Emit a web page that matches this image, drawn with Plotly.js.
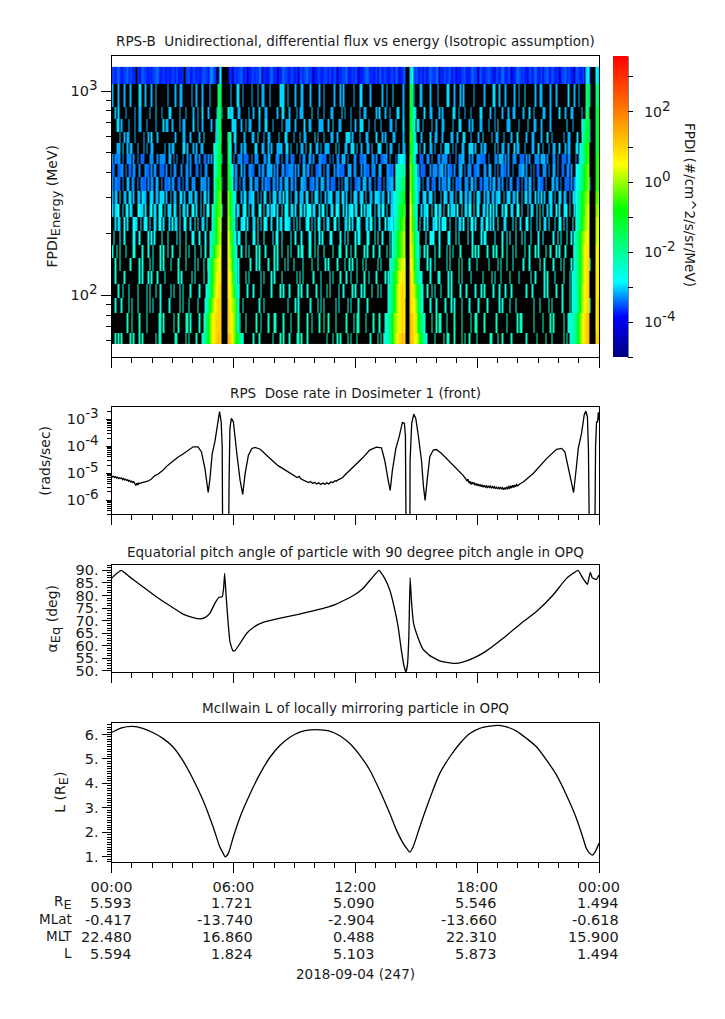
<!DOCTYPE html>
<html><head><meta charset="utf-8">
<script src="https://cdn.plot.ly/plotly-3.0.1.min.js"></script>
<style>html,body{margin:0;padding:0;background:#fff}#g{width:725px;height:1019px}</style>
</head><body><div id="g"></div>
<script>
// ---------- Spectrogram values ----------
var energyEdgesMeV = [1315,1090,840,732,634,560,494,442,381,325,281,242,207,177,152,132,114,97.3,81.9,65.6,57.9];
// one char per time bin: '.' = no counts (black); others index fluxLevels (log10 flux)
var fluxLevels = {Z:-4.4,A:-3.75,B:-3.6,C:-3.45,D:-3.3,a:-3.65,b:-3.45,c:-3.3,d:-3.15,e:-3.0,f:-2.85,g:-2.6,h:-2.35,i:-2.1,j:-1.7,k:-1.3,l:-0.9,m:-0.5,n:-0.2,o:0.1,p:0.4,q:0.7,r:1.0,s:1.3,t:1.7};
var noiseBins = 325;
var noiseRows = [
"BBABCBAABBCABBAB.BAACBBAABABBCCBAABAABAABBACAAAB.BBCAABBABAABCBBA"+"CDCBA.AA.ABBAABZABABBCAABZAABBABACCZBAAABCBABZAABCBBAABBAABZBBABC"+"CABAZAABBAABBBACAABBZBABBBCAAABABBZAAABCCBABAABZBCABBAAABBACBZAAB"+"CBBAZABBCAABZBAABCBBACCZBABBABCAABZAAABBCAAABCBBAZCBAABBCBAAZBBAB"+"CCAABBZAABCCBABAAZBBABCBAABZBBCAACBAABZABBCABBAAZCBBAAB.BBACBBAAB",
"d...d...d...d.....ee..d...d..d.......d....d..dd......d..d...d....d"+"......d...d..d...ee..d.....d...d..dd...d......eee..d....d...dd...."+"d.....d..d......d...d.d......d...ee.....d.......d..d...e......d..d"+"...d...dd.....d....d.....ee...d...d.d......d......d.....ee..d...d."+"....d..d...e......d..dd.....d...d.......e...d..d......d...d.......",
"..d.e....d.....d..dd.....d...e...d....ee.....d...d....d..d..e...d.."+"...d..d....dee...dd.....d..d...e...dd......d..ee...d....d.ddd....."+"e...d...d....dd.....e.d...d.....d..dd......d.e...d..d....ee..d...."+"d..d.....e...dd....d.d......ee..d...d...d.....ee.....d..d....d...d"+"..dd.....d...e..d.....dd...d.....e...d...dd.....d...d....d...e....",
"...ee.d....d...d..dd...d.....d....e.dd..d....d.dd.....e..d..d....."+"d...dd...d....eee...d..d.dd.....d...ee...d.....d..ddd...d.....e..d"+"d.....ddd...d..e...dd......d..d..eee...d...d...d.....dd..d....e..."+".d...ee..d.....d..d...dd.....d...ee.....d.d....dd....d...d.e.....d"+"dd.....d.....e...dd...d.....d..........e...d.....dd...d....e...d..",
".....d..d.dd...d.....d..d.e...d...........d....dd...d.....d..e...."+"...dd.e..d.....ee.....d....dd..e...d..dd.....d...ee....d...d..dd..."+"..e.d...d....dd..d.....eee.d....d...dd.....e...d.d....dd.....d...ee"+"..d...d.....e..dd...d.....dd..d...ee...d....d..e.....d..dd...d....d"+"...e.....d...dd....d...e..d.......d..dd....e....d..d...dd...e.....",
"...ddd.e..d.dd...d...d.d..dd.......d..d.dd.....ee.d...d.d..dd....."+"..d..d...eee.d..d...d.dd.....ee...dd..d.d...dddd..ee.d...d..dd.d.."+"e...dd.d..ddd....e.d...dd..eee.d..d...dd.d...eee...d.dd....d..dd.e"+"...ddd.d..e...dd.d...d..eee..d.d...dd...eee.d...d.dd.....e.d..dd.."+"d...e.dd...d....dd..e..d...d..dd..e...d.dd...ee.d...dd..d...e.d...",
"c.cbcc.c..ccc.c..c.bbb...ccc..c.cccc..dd.c.c...c..c.c..cc.c..bb.c.c"+"...c.cc.d..cc.c..ccc.bbb..c.ccc...cc.dd...ccc.c..cc.cbb...c.cc..dc."+"c...ccbbb..c.c..cc.ddd.c...cc..bbbcc...cc.c..bbccc.c...c.cc.dd..ccc"+".c..bbb..cc.c...cc.cccc.b...c.ccdd...c.c..cccbbb..c...cc.ddd.c.c..c"+"cc..bbb.c.c...ccc.ddd.c...cc.c..bbb.cc...c.ccc..dd.c...c.cc..bb.c.",
"bc..bbcc.c.bb.cc..c...cbb.c.cc..bbb.c..c.cc...c..cc.c...bb.c..cc.."+"........c..c..c.cc..d.c..ccbb...c.cc.cddd.c.c..cc.bbccc.c.c..dd.cc."+"c..bbcc.c.cc...c.ccbbb..cdd.cc...c.cbbb.ccc..dd...ccbbc.cc...ccdd.c"+".c..c.bbb...c.ccc.cdd.c.cbb.c..cdd.c.ccc.bbcc...cc.dd..c.c.ccbb.c.."+"c...ccdd.c..c.c.bb..ccc.c..dd.c..bb.cc.c...ccc.dd.c..bb..c.cc..c..",
"c.cbbb.c..dd.cc..c.cbbb.c.cc.dd..c.cbbc.cc..bb.c.cc..ccc...dccc.c."+".......cc.......cc.c.cc...dd.ccc..c.cbbb.cc.c.cc.ddd.cc.c...ddcc..b"+"bc.cc.ddc.cc.bbb..c.c.ddc.c..bbcc.ddd.cc..c.bbb.c.ccddd.c...cc.bbb."+"c.ccdd.c..cc.bbc..c.ccc.dd.c.cbbc..ccc.dd.c..bb.ccc.c.dd.cc.c..c.cc"+"...bb.c.cc.dd.c..ccbb.c...dd.cc.c..bbb.c.cc...dd.c.cc..bb.c..cc...",
"d.de.e..dd.ee.d..ed.eed..dee.dd.eee.d..d.dd..ee.d..ede.ed..d.ee.d."+"...d.ee..d.d.dd.e...d.ee.ddee..d.d.ee..d.dee.dd.e.ee.d..de.dde.ee.."+"d.eed.d..d.dee..dde.ee.d..d.eed.dee.d..dd.eeed.dd..e.dee.d.dee.dde."+"d.eed..dee.dee.d...d.eed.dde.d..ee.dd.de.d.eed..d.de.dd.dee..d.dee."+"dd.e..d.ee.dd..e.d.e.d..dee.d..ee.dd..d.eee.d..dd.e.d..ee.dd.d....",
"e.eff..e.ef.ee...ffee.e..ef.ee.fff.e.eee.fe..e.ee.e..ff.e..e.e.ff."+".e..e.ff.ee.e..f.ee..eff.e.ee...ff.e.ee.eef.e..e.ffe.ee.e..fe.e.fff"+".ee..e.ff.e..ee.ffe..e.e.eff.ee..f.e.eef..e.ee.ff.e..eee.f.e.ef.ee."+"e.ff..e.eef..e.ff.ee.e..f.eee.f..e.ee.ff.e.ef..ee.e.f.e.e...e.ff..e"+"e..ff.e...e.ee..f.e.f..e.ee..f.e..eff.e..e.ee.f..ee.e..ff.e..e....",
"..e.ee..f.e...ffe..e.eff.e..ee.ff.e...e.f.ee.e..ff..e..f.e..ee.f.."+"......e.f..ee..f.e..eff.e...ee.f.e.ffe..e...f.ee.ffee..e.f.e...eff."+"e.e.ff..e.ee...ff.e...ee.f.e..ffe...ee.ff.e..e...f.eeff.e..ffe.e..f"+"f.ee.e..f.e...eef.e.fff..e...e.ee.f..e.ff.e...ee.ff.e.e..f...ee...."+"f.e..e...ff.e...e.f..ee.f...e..ff.e.e...f.ee..e.ff..e..e.f...e....",
".f...f..f.....ff..f.....f.f.f....f...f.....f.f...f...ff...f...f..."+"........f...f...f.ff...f....ff.f...f.....f.ff..f.....f..f...f....f"+"f..f..f.f....ff.....f..f.f....f.ff....ff...f.f..f....f...f....f..."+"f..f.f.....f..fff...f.....ff...f.f.....f..f.....f.ff.....f....f..f"+".f...f...f.f...f....f..f......f..f.f...f..f....f...ff...f...f.....",
"g..g.g...g....gg....g...g..g....g.g..g..g....g...g.g...g...g..g..."+".........g......g...g..g.g....g.g...g.....g.g..g...g.g....g.gg...g"+"g..g.g...g.....g...gg...g..g..g.....g.g...g...g....g.g.g....g...g."+"...g...g..g.g....g..g....g.g.g....g.......g.g.g.....g...g.g...g..g"+"...g.g.....g..g...g.g....g..g...g.g...g.....g..g...g.g.....g...g..",
"..g..g......g.....g.g....g.g....g.g....g....g....g.....g.g...g..g."+".............g....g.......g...g.g.....g...g.g....g.g...g.....g.....g"+"...g....g.g.....g....g..g.g..g...g.g.......g.g.....g..g....g.g....g"+"...g.....g.g..g.......g.g.....g.g....g....g.......g.....g.g...g...g"+"......g...g......g..g.....g....g.g....g.g......g..g.....g.....g.....",
"..g.....g.........g.g...g.g...g....g........g.g......g.g.....g...g."+"....g............g....g.g.......g.g....g.g....g.........g.g.g......g"+"....g.....g.g....g...g..g...g....g..g....g.....g.g....g...g.g......"+"..g.g.....g....gg.....g.g....g.g.....g.......g.....g.g...g.....g..."+"..g.......g..g.....g.g....g.....g...g....g......g...g....g...g......",
"....g..g...g.....g.....g.g...g..g......g.g...g.g....g.....g....g..."+"..............g..g.....g...g....g......g.....g.g...g.....g.g...g....."+"g..g...g.g.....g..g.....g.g...g.g....g...g.g.....g.g.....g.g.g......"+"g.....g..g.g...g....g.g.....g...g.....g...g.g.....g...g...g...g......"+"...g...g.......g.g.....g...g....g.....g.....g.g....g......g....g.......",
"..g...g....g.g...g.....g.g.g....g.....g......g.g...g.....g....g...."+"..............g.g...g..........g..g...............g....g.g.......g."+"...g.g.g.......g.g.....g.g....g.....g..............g.g...g....g......"+".g.g.....g...g.....g...g.g....g....g.....g.....g.......g.g....g...g"+"...........g...g.....g.g......g....g..g.......g.g.....g...g........",
"..........h..h....h....h.......hh.h......h..h....hh.h.....h...hh.."+"..............h....h...h......h..h....h...hh....h....h....h.....h..h"+"....h..h..h....h......h....h.hh....h....h...h...h.h.......h....h...h"+"...h.......h..h.hh...h....h....h.....h..hh....h.......h......h....."+".h.hh.......h.....h....h.h......h....h...h......h.h.......h........",
"..h.h.h.....h.h...h.h........h.hh.........hh.....h.h....h....h...."+"..........h...h....h.h......h...h........h....h.h...h....hh.h...h..."+".........h...h..h.h....h.h...h........h....h.h.hh...h.......h.h....."+"h.h...h......h.....h.hh...h....h.h..h....h........hh...h..h.....h..."+"......h......h.....h...h.......h.h....h......h....h....h...h......."
];
// satellite-pass belts on a coarser grid: strings per row (top to bottom)
var beltBins = 244;
var endInA = 54, gapA = [55,57], startOutA = 58;
var endInB = 146, gapB = [147,148], startOutB = 149;
var endInC = 238, gapC = [239,241], startOutC = 242;
var inA = ["f","jk","jk","ejk","ejk","gijk","gikl","gikl","gklm","gkmn","gjlmn","gjlno","gijlno","gjlnop","gjlnopq","gjlnpqq","gijlopqr","gjlnpqrr","gjlnpqrrr","gijlnpqrsr"];
var outA = ["","","i","","jh","kf","kg","lig","lkg","nlig","nlig","oljg","pmkg","pnkig","qolig","qpmjg","qpnkig","rponkg","rqpnkg","srpnlkig"];
var inB = ["","","","","","","effe","ghhii","ghijj","ghijkl","ghjklm","gijlmn","gijlmno","gijlmno","gijlnopp","gjlmopqq","gijlnpqrq","gijlnpqrq","gijlnopqrq","ggijlnpqrsr"];
var outB = ["eg","kj","ljg","ljg","mkg","lkgf","mkg","nlig","nlig","oljg","pmig","pmkg","qnkig","qolig","qpljg","rpmjig","rqomkig","rqpnkig","srqolkig","srqpnljig"];
var inC = ["ef","jk","ik","gikl","gjkl","gijlm","ghjlm","fghjlmn","fgijlmn","gijlmno","gijlmop","gijlnop","gijlnopq","gijlnpqq","gijlnpqr","ggijlnpqr","ggijlopqr","gghjlopqr","gghijlnpqrs","ghijlnpqrs"];
var outC = ["fe","jj","kl","kl","kl","kl","lm","lm","lm","mn","no","op","op","pq","pq","qq","qq","qr","qr","rr"];

// ---------- Dosimeter 1 rate ----------
var doseHours = [
 0,.05,.1,.15,.2,.25,.3,.35,.4,.45,.5,.55,.6,.65,.7,.75,.8,.85,.9,.95,1,1.05,1.1,1.15,1.2,1.25,1.3,1.35,1.4,1.5,1.6,1.79,
 1.95,2.12,2.3,2.53,2.75,3.02,3.25,3.52,3.8,4.02,4.26,4.43,4.6,4.76,4.84,4.96,5.09,5.21,5.32,5.4,5.45,5.47,5.77,5.79,5.83,5.9,6.0,6.17,6.33,6.46,6.58,6.74,6.91,7.07,7.32,7.82,8.2,8.48,8.8,9.0,
 9.14,9.25,9.3,9.4,9.5,9.6,9.7,9.8,9.9,10,10.1,10.2,10.3,10.4,10.5,10.6,10.7,10.8,10.9,11,11.07,11.15,11.25,11.35,11.48,
 11.89,12.38,12.71,13.04,13.29,13.45,13.62,13.72,13.83,14.0,14.16,14.32,14.42,14.47,14.5,14.69,14.7,14.78,14.88,14.98,15.1,15.26,15.36,15.44,15.54,15.67,15.84,16.0,16.25,16.82,
 17.31,17.45,17.5,17.55,17.6,17.65,17.7,17.75,17.8,17.85,17.9,17.95,18,18.05,18.1,18.15,18.2,18.25,18.3,18.35,18.4,18.45,18.5,18.55,18.6,18.65,18.7,18.75,18.8,18.85,18.9,18.95,19,19.05,19.1,19.15,19.2,19.25,19.3,19.35,19.4,19.45,19.5,19.55,19.6,19.65,19.7,19.75,19.8,19.85,19.9,19.95,20,20.1,20.27,
 20.76,21.42,21.91,22.16,22.32,22.49,22.65,22.75,22.87,22.98,23.14,23.27,23.35,23.43,23.48,23.52,23.8,23.83,23.88,23.93,23.97,24];
var doseLog10 = [
 -5.11,-5.14,-5.12,-5.16,-5.13,-5.18,-5.15,-5.2,-5.17,-5.2,-5.18,-5.24,-5.2,-5.25,-5.23,-5.27,-5.25,-5.3,-5.27,-5.33,-5.3,-5.35,-5.32,-5.42,-5.46,-5.37,-5.44,-5.37,-5.38,-5.35,-5.33,-5.3,
 -5.23,-5.1,-5.03,-4.89,-4.72,-4.55,-4.42,-4.29,-4.13,-4.02,-4.02,-4.21,-4.83,-5.72,-5.26,-4.27,-3.83,-3.21,-2.71,-3.09,-4.0,-7,-7,-5.26,-3.34,-2.96,-3.09,-4.27,-5.26,-5.79,-5.01,-4.33,-4.08,-4.04,-4.11,-4.46,-4.72,-4.85,-5.0,-5.08,
 -5.16,-5.12,-5.2,-5.24,-5.28,-5.3,-5.35,-5.31,-5.38,-5.34,-5.4,-5.36,-5.42,-5.37,-5.41,-5.36,-5.4,-5.33,-5.35,-5.28,-5.3,-5.25,-5.22,-5.18,-5.08,
 -4.79,-4.42,-4.14,-4.03,-4.06,-4.52,-5.26,-5.64,-4.89,-4.08,-3.65,-3.11,-3.15,-3.6,-7,-7,-4.52,-3.15,-2.8,-2.96,-3.58,-4.52,-5.51,-6.01,-5.26,-4.39,-4.14,-4.12,-4.27,-4.7,
 -5.08,-5.22,-5.3,-5.22,-5.37,-5.3,-5.42,-5.33,-5.4,-5.35,-5.45,-5.38,-5.47,-5.4,-5.48,-5.42,-5.5,-5.43,-5.52,-5.45,-5.52,-5.47,-5.55,-5.47,-5.53,-5.48,-5.56,-5.5,-5.55,-5.5,-5.58,-5.52,-5.57,-5.53,-5.6,-5.52,-5.58,-5.54,-5.62,-5.54,-5.6,-5.52,-5.6,-5.48,-5.58,-5.47,-5.55,-5.45,-5.53,-5.44,-5.5,-5.42,-5.47,-5.4,-5.33,
 -5.01,-4.46,-4.11,-4.08,-4.21,-4.77,-5.39,-5.72,-4.89,-4.08,-3.52,-2.84,-2.69,-2.9,-4.14,-7,-7,-4.02,-3.09,-3.09,-2.74,-3.02];

// ---------- Equatorial pitch angle ----------
var pitchHours = [0,.25,.48,.88,1.54,2.2,2.86,3.52,4.02,4.35,4.6,4.84,5.09,5.29,5.45,5.52,5.57,5.64,5.75,5.83,5.97,6.08,6.33,6.66,7,7.49,8.31,9.14,9.97,10.5,11.07,11.89,12.38,12.88,13.17,13.45,13.7,13.95,14.11,14.27,14.39,14.49,14.57,14.64,14.7,14.77,14.87,15.1,15.34,15.67,16.16,16.66,16.98,17.48,17.97,18.46,19.28,20.1,20.92,21.74,22.4,22.97,23.21,23.43,23.57,23.67,23.87,24];
var pitchDeg = [86.8,88.7,90,87.5,83.5,79.5,76,72.6,71.2,70.7,71.2,72.9,76.9,79.3,79.5,82.8,88.8,80.2,68.3,61.7,58.1,58.1,61,65,67.4,69.4,71,72.4,74,75.1,76.6,79.9,82.8,87.5,90,86.8,82.2,74.2,67.6,58.3,52.4,49.6,52.4,64.3,87.1,77.5,69,63,58.6,56.1,54,53.2,53,54,55.7,58,63,68.5,73.6,80.2,86.8,90,86.8,84.4,89.2,87,86.4,88.1];

// ---------- McIlwain L ----------
var lHours = [0,.5,1.04,1.54,2.03,2.53,3.02,3.5,4,4.5,5,5.33,5.5,5.6,5.75,6,6.33,6.83,7.32,7.82,8.3,8.8,9.3,9.8,10.3,10.74,11.24,11.73,12.22,12.72,13.2,13.7,14.03,14.36,14.56,14.69,14.85,15.18,15.67,16.16,16.66,17.15,17.64,18.13,18.63,19.04,19.45,19.94,20.43,20.92,21.42,21.91,22.4,22.89,23.22,23.38,23.55,23.68,23.81,24];
var lValue = [6.08,6.27,6.33,6.25,6.08,5.84,5.5,4.95,4.2,3.32,2.23,1.41,1.14,1,1.14,1.82,2.63,3.59,4.41,5.09,5.56,5.9,6.11,6.19,6.19,6.14,5.95,5.63,5.16,4.54,3.72,2.77,2.09,1.55,1.31,1.19,1.41,2.23,3.38,4.41,5.09,5.63,6.04,6.25,6.34,6.37,6.31,6.14,5.84,5.5,4.95,4.34,3.52,2.57,1.75,1.34,1.14,1.07,1.2,1.55];

// ---------- Tick labels and ephemeris ----------
function bigSub(s){ return '<sub><span style="font-size:13px">'+s+'</span></sub>'; }
function decade(s){ return '10<sup><span style="font-size:13.5px">'+s+'</span></sup>'; }
var timeTicks = [0,6,12,18,24];
var timeLabels = ["00:00","06:00","12:00","18:00","00:00"];
var ephemNames = ["R"+bigSub("E"),"MLat","MLT","L"];
var ephemValues = [
 ["5.593","1.721","5.090","5.546","1.494"],
 ["-0.417","-13.740","-2.904","-13.660","-0.618"],
 ["22.480","16.860","0.488","22.310","15.900"],
 ["5.594","1.824","5.103","5.873","1.494"]];
var panelTitles = ["RPS-B  Unidirectional, differential flux vs energy (Isotropic assumption)","RPS  Dose rate in Dosimeter 1 (front)","Equatorial pitch angle of particle with 90 degree pitch angle in OPQ","McIlwain L of locally mirroring particle in OPQ"];
var dateLabel = "2018-09-04 (247)";
var colorTitle = "FPDI (#/cm^2/s/sr/MeV)";

// ---------- Page geometry ----------
var W = 725, H = 1019, FONT = "DejaVu Sans, sans-serif", INK = "#1a1a1a";
function py(p){ return 1 - p/H; }
function put(arr, str, start){ for (var i=0;i<str.length;i++) arr[start+i]=str[i]; }
var gaps = [gapA,gapB,gapC];
var noiseGrid = noiseRows.map(function(r){
  var a = r.slice(0,noiseBins).padEnd(noiseBins,'.').split('');
  return a.map(function(ch,n){
    var c = Math.floor(n*beltBins/noiseBins);
    var inGap = gaps.some(function(g){ return c>=g[0] && c<=g[1]; });
    return (ch==='.'||inGap) ? null : fluxLevels[ch];
  });
});
var beltGrid = noiseRows.map(function(r,ri){
  var a = new Array(beltBins).fill('.');
  [[endInA,startOutA,inA,outA],[endInB,startOutB,inB,outB],[endInC,startOutC,inC,outC]].forEach(function(p){
    put(a, p[2][ri], p[0]-p[2][ri].length+1);
    put(a, p[3][ri], p[1]);
  });
  return a.map(function(ch){ return ch==='.' ? null : fluxLevels[ch]; });
});
var edgesUp = energyEdgesMeV.slice().reverse();
var noiseUp = noiseGrid.slice().reverse();
var beltUp = beltGrid.slice().reverse();
var noiseDx = 24/noiseBins, beltDx = 24/beltBins;
var rainbow = [[0,'#00007f'],[.134,'#0000ff'],[.25,'#00ffff'],[.49,'#00ff00'],[.64,'#ffff00'],[.81,'#ff8000'],[1,'#ff0000']];

var cbTicks = [-5,-4,-3,-2,-1,0,1,2,3];
var cbLabels = ['','\u00a0\u00a0'+decade('-4'),'','\u00a0\u00a0'+decade('-2'),'','\u00a0\u00a0'+decade('0'),'','\u00a0\u00a0'+decade('2'),''];
var traces = [
 {type:'heatmap',xaxis:'x',yaxis:'y',x0:noiseDx/2,dx:noiseDx,y:edgesUp,z:noiseUp.map(function(r){return r.map(function(){return 0;});}),
  colorscale:[[0,'#000'],[1,'#000']],showscale:false,zsmooth:false,hoverinfo:'skip'},
 {type:'heatmap',xaxis:'x',yaxis:'y',x0:noiseDx/2,dx:noiseDx,y:edgesUp,z:noiseUp,zmin:-5,zmax:3.58,zsmooth:false,colorscale:rainbow,
  colorbar:{x:613/W,xanchor:'left',xpad:0,y:py(56.5),yanchor:'top',ypad:0,len:301/H,lenmode:'fraction',thickness:15,thicknessmode:'pixels',
    outlinewidth:0,ticks:'outside',ticklen:5,tickwidth:1,tickcolor:'#000',tickmode:'array',
    tickvals:cbTicks,ticktext:cbLabels,tickfont:{family:FONT,size:14,color:INK}}},
 {type:'heatmap',xaxis:'x',yaxis:'y',x0:beltDx/2,dx:beltDx,y:edgesUp,z:beltUp,zmin:-5,zmax:3.58,zsmooth:false,colorscale:rainbow,showscale:false},
 {type:'scatter',mode:'lines',xaxis:'x2',yaxis:'y2',x:doseHours,y:doseLog10.map(function(v){return Math.pow(10,v);}),line:{color:'#000',width:1.3}},
 {type:'scatter',mode:'lines',xaxis:'x3',yaxis:'y3',x:pitchHours,y:pitchDeg,line:{color:'#000',width:1.3,shape:'spline',smoothing:0.35}},
 {type:'scatter',mode:'lines',xaxis:'x4',yaxis:'y4',x:lHours,y:lValue,line:{color:'#000',width:1.3,shape:'spline',smoothing:0.7}}
];

function xAxis(anchor, labels){
  return {domain:[111.5/W,599/W],anchor:anchor,range:[0,24],showgrid:false,zeroline:false,
    showline:true,mirror:true,linecolor:'#000',linewidth:1,
    tickmode:'array',tickvals:timeTicks,ticktext:timeLabels,showticklabels:labels,ticks:'outside',ticklen:10,tickwidth:1,tickcolor:'#000',
    tickfont:{family:FONT,size:14.5,color:INK},ticklabelstandoff:2,
    minor:{tickmode:'linear',tick0:0,dtick:1,ticks:'outside',ticklen:5,tickwidth:1,tickcolor:'#000',showgrid:false}};
}
function yAxis(anchor, top, bottom, extra){
  var a = {domain:[py(bottom),py(top)],anchor:anchor,showgrid:false,zeroline:false,showline:true,mirror:true,linecolor:'#000',linewidth:1,
    ticks:'outside',tickwidth:1,tickcolor:'#000',tickfont:{family:FONT,size:14.5,color:INK},tickmode:'array'};
  for (var k in extra) a[k]=extra[k];
  return a;
}
function ttl(t,s){ return {text:t,font:{family:FONT,size:14,color:INK},standoff:s}; }

var energyMinor = [60,70,80,90,200,300,400,500,600,700,800,900];
var doseMinor = [];
[-7,-6,-5,-4,-3].forEach(function(d){ [2,3,4,5,6,7,8,9].forEach(function(m){ doseMinor.push(m*Math.pow(10,d)); }); });
var minorStyle = function(len,o){ var m={ticks:'outside',ticklen:len,tickwidth:1,tickcolor:'#000',showgrid:false}; for(var k in o)m[k]=o[k]; return m; };

var anns = [];
[[41,0],[393,1],[552,2],[708,3]].forEach(function(p){
  anns.push({xref:'paper',yref:'paper',x:355/W,y:py(p[0]),xanchor:'center',yanchor:'middle',showarrow:false,text:panelTitles[p[1]],font:{family:FONT,size:13.5,color:INK}});
});
[903,920,937,954].forEach(function(yy,r){
  anns.push({xref:'paper',yref:'paper',x:74/W,y:py(yy-1),xanchor:'right',yanchor:'middle',showarrow:false,text:ephemNames[r],font:{family:FONT,size:13.5,color:INK}});
  timeTicks.forEach(function(t,c){
    anns.push({xref:'x4',yref:'paper',x:t,y:py(yy),xanchor:'right',xshift:22,yanchor:'middle',showarrow:false,text:ephemValues[r][c],font:{family:FONT,size:14.5,color:INK}});
  });
});
anns.push({xref:'paper',yref:'paper',x:355/W,y:py(974),xanchor:'center',yanchor:'middle',showarrow:false,text:dateLabel,font:{family:FONT,size:13.5,color:INK}});
anns.push({xref:'paper',yref:'paper',x:690/W,y:py(205),xanchor:'center',yanchor:'middle',textangle:90,showarrow:false,text:colorTitle,font:{family:FONT,size:13.5,color:INK}});

var layout = {
  width:W,height:H,margin:{l:0,r:0,t:0,b:0,pad:0},paper_bgcolor:'#fff',plot_bgcolor:'#fff',showlegend:false,
  xaxis:xAxis('y',false),xaxis2:xAxis('y2',false),xaxis3:xAxis('y3',false),xaxis4:xAxis('y4',true),
  yaxis:yAxis('x',55.5,357,{type:'log',range:[1.6975,3.175],tickvals:[100,1000],ticktext:[decade('2'),decade('3')],ticklen:10,
    minor:minorStyle(5,{tickmode:'array',tickvals:energyMinor}),title:ttl('FPDI'+bigSub('Energy')+' (MeV)',9)}),
  yaxis2:yAxis('x2',407.3,514.3,{type:'log',range:[-6.53,-2.55],tickvals:[1e-6,1e-5,1e-4,1e-3],ticktext:[decade('-6'),decade('-5'),decade('-4'),decade('-3')],ticklen:5,ticklabelstandoff:4,
    minor:minorStyle(4,{tickmode:'array',tickvals:doseMinor}),title:ttl('(rads/sec)',12)}),
  yaxis3:yAxis('x3',565.3,672,{range:[49.6,92],tickvals:[50,55,60,65,70,75,80,85,90],ticktext:['50.','55.','60.','65.','70.','75.','80.','85.','90.'],ticklen:9,
    minor:minorStyle(4,{tickmode:'linear',tick0:0,dtick:1}),title:ttl('α'+bigSub('Eq')+' (deg)',14)}),
  yaxis4:yAxis('x4',722.5,861.7,{range:[0.8,6.49],tickvals:[1,2,3,4,5,6],ticktext:['1.','2.','3.','4.','5.','6.'],ticklen:9,
    minor:minorStyle(4,{tickmode:'linear',tick0:0,dtick:0.1}),title:ttl('L (R'+bigSub('E')+')',15)}),
  annotations:anns,
  shapes:[{type:'line',xref:'paper',yref:'paper',x0:628/W,x1:628/W,y0:py(56.5),y1:py(357.5),line:{color:'#000',width:1}}]
};
Plotly.newPlot('g',traces,layout,{displayModeBar:false,staticPlot:true});
</script></body></html>
